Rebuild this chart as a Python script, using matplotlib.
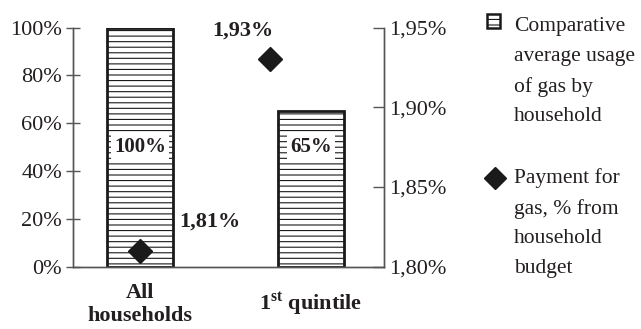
import matplotlib
matplotlib.use('Agg')
import matplotlib.pyplot as plt
from matplotlib.patches import Rectangle

plt.rcParams['font.family'] = 'Liberation Serif'
plt.rcParams['mathtext.fontset'] = 'custom'
plt.rcParams['mathtext.rm'] = 'Liberation Serif:bold'
plt.rcParams['hatch.linewidth'] = 0.8
plt.rcParams['hatch.color'] = '#5a5a5a'

ink = '#231f20'
axis_col = '#555555'

# data
groups = ['All\nhouseholds', '1$^{\\mathrm{st}}$ quintile']
usage = [100, 65]               # comparative average usage of gas, %
payment = [1.81, 1.93]          # payment for gas, % of household budget
payment_x = [0, 0.76]           # secondary series sits on its own x scale
left_ticks = [0, 20, 40, 60, 80, 100]
right_ticks = [1.80, 1.85, 1.90, 1.95]

fig = plt.figure(figsize=(6.41, 3.29), dpi=100)
ax = fig.add_axes([0.1144, 0.1894, 0.4847, 0.727])
ax2 = ax.twinx()

x = list(range(len(groups)))
ax.bar(x, usage, width=0.387, facecolor='white', edgecolor='#1a1a1a',
       linewidth=2, hatch='---', zorder=2)
for xi, v in zip(x, usage):
    ax.text(xi, 50, f'{v}%', ha='center', va='center', fontsize=15,
            fontweight='bold', color=ink, zorder=4,
            bbox=dict(boxstyle='square,pad=0.15', fc='white', ec='none'))

ax.set_xlim(-0.393, 1.429)
ax.set_ylim(0, 100)
ax.set_yticks(left_ticks)
ax.set_yticklabels([f'{t}%' for t in left_ticks])
ax.set_xticks(x)
ax.set_xticklabels(groups, fontsize=16, fontweight='bold', color=ink)
for lab in ax.get_xticklabels():
    lab.set_verticalalignment('center')
ax.tick_params(axis='x', length=0, pad=27)
ax.tick_params(axis='y', direction='inout', length=10, width=1,
               color=axis_col, labelsize=16, labelcolor=ink, pad=3)

ax2.plot(payment_x, payment, linestyle='none', marker='D', markersize=12,
         color='#1a1a1a', zorder=5)
ax2.text(0.41, 1.828, '1,81%', ha='center', va='center', fontsize=16,
         fontweight='bold', color=ink)
ax2.text(0.60, 1.948, '1,93%', ha='center', va='center', fontsize=16,
         fontweight='bold', color=ink)
ax2.set_ylim(1.80, 1.95)
ax2.set_yticks(right_ticks)
ax2.set_yticklabels([f'{t:.2f}%'.replace('.', ',') for t in right_ticks])
ax2.tick_params(axis='y', direction='in', length=8, width=1,
                color=axis_col, labelsize=16, labelcolor=ink, pad=4)

for a in (ax, ax2):
    a.spines['top'].set_visible(False)
    for s in ('left', 'right', 'bottom'):
        a.spines[s].set_color(axis_col)
        a.spines[s].set_linewidth(1)
ax.set_zorder(ax2.get_zorder() - 1)
ax2.patch.set_visible(False)
ax.patch.set_visible(False)

# legend drawn by hand
fig.patches.append(Rectangle((487 / 641, 1 - 28 / 329), 13 / 641, 14 / 329,
                             transform=fig.transFigure, facecolor='white',
                             edgecolor='#1a1a1a', linewidth=1.8, hatch='---'))
fig.lines.append(plt.Line2D([494.5 / 641], [1 - 177.5 / 329], marker='D',
                            markersize=11, color='#1a1a1a',
                            transform=fig.transFigure))
fig.text(514 / 641, 1 - 17 / 329, 'Comparative\naverage usage\nof gas by\nhousehold',
         fontsize=15.5, color=ink, va='top', ha='left', linespacing=1.75)
fig.text(514 / 641, 1 - 168 / 329, 'Payment for\ngas, % from\nhousehold\nbudget',
         fontsize=15.5, color=ink, va='top', ha='left', linespacing=1.75)

fig.savefig('out.png', dpi=100)
